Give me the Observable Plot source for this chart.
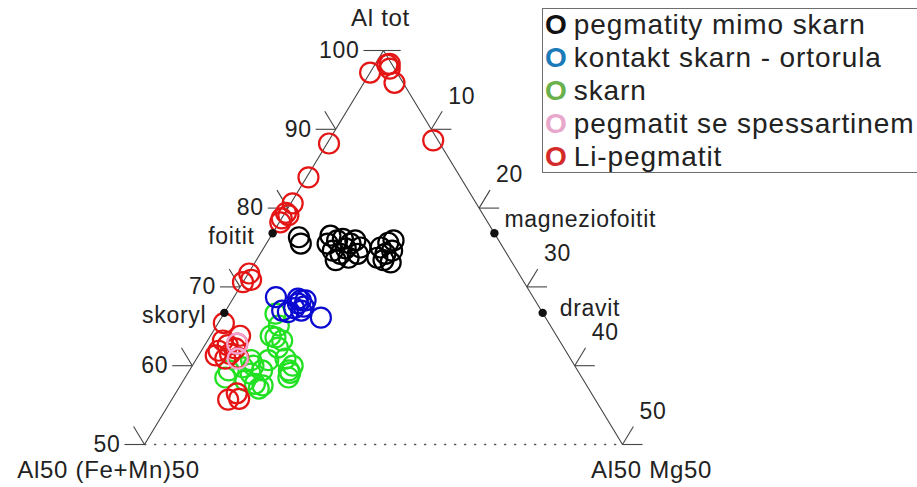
<!DOCTYPE html>
<html><head><meta charset="utf-8">
<script src="https://cdn.jsdelivr.net/npm/d3@7"></script>
<script src="https://cdn.jsdelivr.net/npm/@observablehq/plot@0.6"></script>
<style>
html,body{margin:0;padding:0;background:#fff;overflow:hidden;}
#wrap{position:relative;width:917px;height:487px;overflow:hidden;}
#chart svg text{letter-spacing:0.7px;}
#legend{position:absolute;left:542px;top:8px;width:420px;height:165px;border:1.5px solid #6e6e6e;box-sizing:border-box;font-family:"Liberation Sans",Arial,sans-serif;font-size:28px;line-height:33px;letter-spacing:0.9px;padding:0 0 0 2px;color:#222;background:#fff;white-space:nowrap;}
#legend .inner{margin-top:-1px;}
#legend b{font-weight:bold;margin-right:7px;letter-spacing:0;}
</style></head><body><div id="wrap"><div id="chart"></div><div id="legend"><div class="inner"></div></div></div>
<script>
// Ternary diagram Al tot – Al50(Fe+Mn)50 – Al50Mg50 ; values: Al tot (%) and Mg (%)
const seriesNames = ["pegmatity mimo skarn", "kontakt skarn - ortorula", "skarn", "pegmatit se spessartinem", "Li-pegmatit"];
const plotColors = ["#000000", "#0a0ad0", "#22e022", "#f3a2d2", "#e41515"];
const legendColors = ["#111111", "#1b7ab8", "#6ab04c", "#e8a8cc", "#d42a2a"];

const pegMimoAl = [76.3, 75.5, 76.5, 75.9, 76.1, 75.5, 74.6, 74.2, 73.7, 74.2, 75.0, 75.5, 73.4, 75.0, 74.2, 73.4, 74.6, 75.6, 73.7, 74.9, 75.9, 73.1, 75.9];
const pegMimoMg = [3.0, 3.6, 6.2, 7.2, 7.7, 8.8, 7.4, 8.4, 9.5, 10.2, 10.1, 6.4, 8.3, 12.2, 13.1, 13.3, 13.6, 12.7, 12.5, 8.6, 9.1, 14.2, 13.1];

const kontaktAl = [68.7, 67.9, 68.3, 67.3, 67.5, 66.1, 66.8, 67.0, 68.3, 68.5, 67.0];
const kontaktMg = [4.4, 7.1, 7.2, 7.0, 7.9, 10.4, 6.6, 5.9, 7.7, 6.8, 7.9];

const skarnAl = [66.6, 65.1, 63.6, 62.3, 63.2, 60.9, 59.4, 60.0, 58.5, 60.0, 59.0, 57.7, 57.1, 58.1, 59.4, 59.4, 59.8, 60.7, 58.5, 63.8, 59.1, 60.7, 57.5];
const skarnMg = [5.4, 6.5, 6.9, 7.8, 7.8, 9.3, 10.4, 10.5, 10.8, 6.4, 6.6, 7.7, 8.4, 6.5, 7.6, 4.1, 5.4, 5.8, 4.2, 6.3, 10.7, 7.6, 8.6];

const spessAl = [60.9, 62.8];
const spessMg = [4.3, 3.3];

const liPegAl = [97.2, 98.2, 98.3, 97.7, 95.9, 88.6, 88.2, 83.9, 80.6, 79.4, 78.7, 78.2, 79.1, 71.7, 70.6, 70.9, 65.4, 61.9, 62.6, 62.2, 61.0, 60.9, 61.3, 61.5, 62.8, 63.2, 63.8, 55.7, 56.5, 55.8];
const liPegMg = [0.0, 1.3, 1.5, 1.8, 3.2, 10.9, 0.2, 0.2, 0.2, 0.1, 0.0, 0.1, 0.5, 0.1, 0.0, 0.7, 0.6, 1.8, 2.4, 3.4, 4.3, 3.0, 1.8, 3.2, 3.3, 1.6, 3.1, 5.9, 6.4, 7.0];

const mineralNames = ["foitit", "skoryl", "magneziofoitit", "dravit"];
const mineralAl = [76.8, 66.7, 76.8, 66.7];
const mineralMg = [0, 0, 23.2, 33.3];

const leftTicks = [50, 60, 70, 80, 90, 100];   // Al tot
const rightTicks = [10, 20, 30, 40, 50];      // Mg

// ternary -> cartesian (x in "Mg units", y = Al)
const tx = (al, mg) => mg + (al - 50) / 2;

const seriesAl = [pegMimoAl, kontaktAl, skarnAl, spessAl, liPegAl];
const seriesMg = [pegMimoMg, kontaktMg, skarnMg, spessMg, liPegMg];
const points = [];
const drawOrder = [0, 2, 1, 4, 3];
for (const s of drawOrder) {
  seriesAl[s].forEach((al, i) => points.push({series: seriesNames[s], al, mg: seriesMg[s][i]}));
}
const minerals = mineralNames.map((name, i) => ({name, al: mineralAl[i], mg: mineralMg[i]}));

const edge = [{al: 50, mg: 0}, {al: 100, mg: 0}, {al: 50, mg: 50}];
const base = [{al: 50, mg: 0}, {al: 50, mg: 50}];

const H = 2.1, DX = 1.14, DY = 2.28;
const leftH = leftTicks.map(v => ({x1: tx(v, 0), y1: v, x2: tx(v, 0) - H, y2: v}));
const leftD = leftTicks.filter(v => v < 100).map(v => ({x1: tx(v, 0), y1: v, x2: tx(v, 0) - DX, y2: v + DY}));
const rightH = [0, ...rightTicks].map(m => ({x1: tx(100 - m, m), y1: 100 - m, x2: tx(100 - m, m) + (m === 0 ? 1.8 : H), y2: 100 - m}));
const rightD = rightTicks.map(m => ({x1: tx(100 - m, m), y1: 100 - m, x2: tx(100 - m, m) + DX, y2: 100 - m + DY}));

const font = "Liberation Sans, Arial, sans-serif";
const fs = 23;
const chart = Plot.plot({
  width: 917, height: 487,
  marginLeft: 144, marginRight: 295, marginTop: 50, marginBottom: 43,
  x: {domain: [0, 50], axis: null},
  y: {domain: [50, 100], axis: null},
  color: {domain: seriesNames, range: plotColors},
  style: {fontFamily: font, background: "#fff", overflow: "visible"},
  marks: [
    Plot.line(base, {x: d => tx(d.al, d.mg), y: "al", stroke: "#555", strokeWidth: 1.3, strokeDasharray: "1.3 8.7"}),
    Plot.line(edge, {x: d => tx(d.al, d.mg), y: "al", stroke: "#444", strokeWidth: 1.1}),
    Plot.link([...leftH, ...leftD, ...rightH, ...rightD], {x1: "x1", y1: "y1", x2: "x2", y2: "y2", stroke: "#444", strokeWidth: 1.1}),
    Plot.text(leftTicks, {x: v => tx(v, 0) - H, y: v => v, text: v => String(v), textAnchor: "end", dx: -4, fontSize: fs, fill: "#222"}),
    Plot.text(rightTicks, {x: m => tx(100 - m, m), y: m => 100 - m, text: m => String(m), textAnchor: "start", dx: 17, dy: -33, fontSize: fs, fill: "#222"}),
    Plot.dot(points, {x: d => tx(d.al, d.mg), y: "al", stroke: "series", r: 10, strokeWidth: 2.2, fill: "none"}),
    Plot.dot(minerals, {x: d => tx(d.al, d.mg), y: "al", r: 4.2, fill: "#111"}),
    Plot.text(minerals.filter(d => d.mg === 0), {x: d => tx(d.al, d.mg), y: "al", text: "name", textAnchor: "end", dx: -18, dy: 3, fontSize: fs, fill: "#222"}),
    Plot.text(minerals.filter(d => d.name === "magneziofoitit"), {x: d => tx(d.al, d.mg), y: "al", text: "name", textAnchor: "start", dx: 10, dy: -14, fontSize: fs, fill: "#222"}),
    Plot.text(minerals.filter(d => d.name === "dravit"), {x: d => tx(d.al, d.mg), y: "al", text: "name", textAnchor: "start", dx: 17, dy: -4, fontSize: fs, fill: "#222"}),
    Plot.text([{al: 100, mg: 0, t: "Al tot"}], {x: d => tx(d.al, d.mg), y: "al", text: "t", dx: -3, dy: -32, fontSize: 24, fill: "#222"}),
    Plot.text([{al: 50, mg: 0, t: "Al50 (Fe+Mn)50"}], {x: d => tx(d.al, d.mg), y: "al", text: "t", dx: -36, dy: 26, fontSize: 24, fill: "#222"}),
    Plot.text([{al: 50, mg: 50, t: "Al50 Mg50"}], {x: d => tx(d.al, d.mg), y: "al", text: "t", dx: 29, dy: 26, fontSize: 24, fill: "#222"})
  ]
});
document.getElementById("chart").appendChild(chart);

const legend = document.querySelector("#legend .inner");
seriesNames.forEach((name, i) => {
  const row = document.createElement("div");
  const o = document.createElement("b");
  o.textContent = "O";
  o.style.color = legendColors[i];
  row.appendChild(o);
  row.appendChild(document.createTextNode(name));
  legend.appendChild(row);
});
</script>
</body></html>
